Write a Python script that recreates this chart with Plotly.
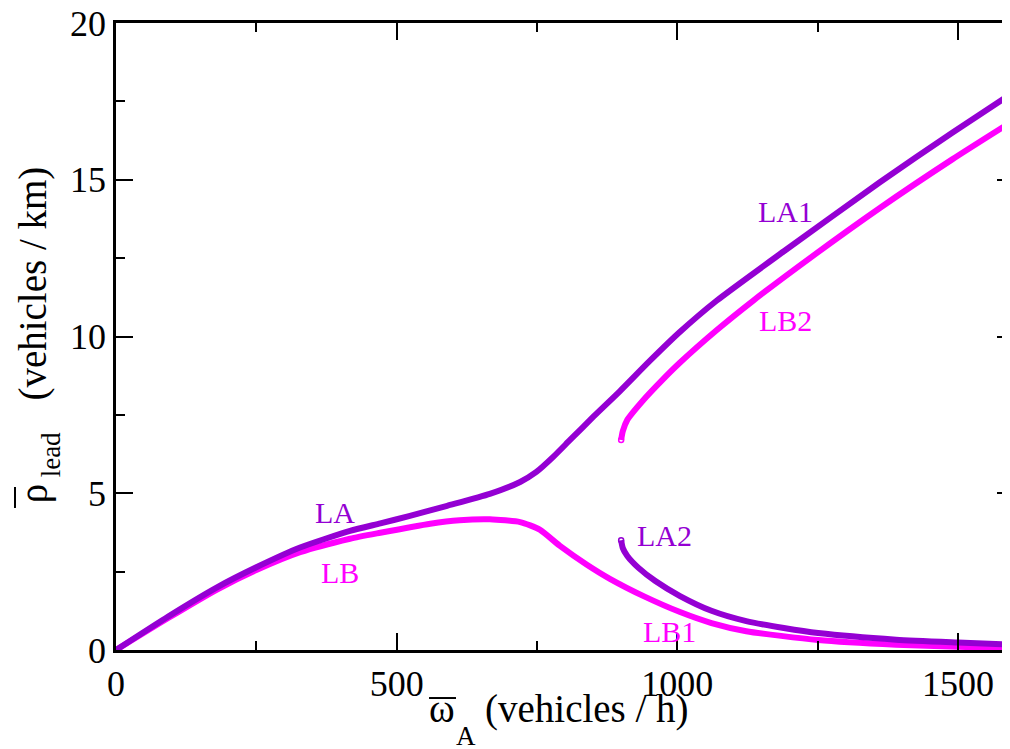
import plotly.graph_objects as go

# LA (purple, main branch continuing as LA1)
la_x = [0, 93, 180, 250, 328, 417, 471, 522, 590, 666, 720, 749, 779, 809, 851, 898, 951, 1005, 1070, 1190, 1361, 1490, 1600]
la_y = [0, 1.07, 2.0, 2.64, 3.27, 3.8, 4.04, 4.27, 4.6, 4.98, 5.36, 5.68, 6.16, 6.7, 7.45, 8.26, 9.22, 10.15, 11.14, 12.72, 14.92, 16.5, 17.8]

# LB (magenta, main branch continuing as LB1)
lb_x = [0, 93, 180, 250, 328, 417, 471, 560, 612, 666, 720, 755, 791, 839, 880, 941, 1005, 1061, 1123, 1251, 1390, 1500, 1600]
lb_y = [0, 1.02, 1.93, 2.55, 3.12, 3.55, 3.74, 4.03, 4.14, 4.17, 4.08, 3.84, 3.32, 2.72, 2.27, 1.71, 1.21, 0.86, 0.6, 0.32, 0.17, 0.1, 0.07]

# LA2 (purple lower branch)
la2_x = [900, 903, 911, 931, 961, 1005, 1061, 1123, 1190, 1251, 1390, 1500, 1600]
la2_y = [3.5, 3.25, 3.0, 2.62, 2.2, 1.72, 1.25, 0.92, 0.7, 0.54, 0.33, 0.24, 0.17]

# LB2 (magenta upper branch)
lb2_x = [900, 903, 911, 939, 971, 1005, 1070, 1135, 1240, 1361, 1490, 1600]
lb2_y = [6.7, 6.98, 7.34, 7.96, 8.57, 9.17, 10.2, 11.14, 12.55, 14.1, 15.65, 16.9]

labels = ["LA", "LB", "LA1", "LB2", "LA2", "LB1"]
label_x = [390, 399, 1192, 1192, 978, 987]
label_y = [4.4, 2.46, 14.0, 10.5, 3.66, 0.58]

x_ticks = [0, 500, 1000, 1500]
y_ticks = [0, 5, 10, 15, 20]

# axis title pieces: (symbol, subscript, unit text)
x_title = ["ω", "A", "(vehicles / h)"]
y_title = ["ρ", "lead", "(vehicles / km)"]

PURPLE = "#9400D3"
MAGENTA = "#FF00FF"
label_colors = [PURPLE, MAGENTA, PURPLE, MAGENTA, PURPLE, MAGENTA]
SERIF = "Times New Roman"

fig = go.Figure()
for xs, ys, c in [(lb_x, lb_y, MAGENTA), (la_x, la_y, PURPLE),
                  (lb2_x, lb2_y, MAGENTA), (la2_x, la2_y, PURPLE)]:
    fig.add_trace(go.Scatter(x=xs, y=ys, mode="lines",
                             line=dict(color=c, width=6, shape="spline", smoothing=0.6),
                             showlegend=False, hoverinfo="skip"))
for xs, ys, c in [(lb2_x, lb2_y, MAGENTA), (la2_x, la2_y, PURPLE)]:
    fig.add_trace(go.Scatter(x=xs[:1], y=ys[:1], mode="markers",
                             marker=dict(symbol="circle-open", size=5, color=c, line=dict(width=1.5)),
                             showlegend=False, hoverinfo="skip"))

for t, x, y, c in zip(labels, label_x, label_y, label_colors):
    fig.add_annotation(x=x, y=y, text=t, showarrow=False,
                       font=dict(family=SERIF, size=30, color=c))

# axis titles built from plain text pieces (no <sub> markup)
title_font = dict(family=SERIF, size=39, color="black")
sub_font = dict(family=SERIF, size=27, color="black")
common = dict(xref="paper", yref="paper", showarrow=False, xanchor="center", yanchor="middle")
fig.add_annotation(x=0.363, y=-0.094, text=x_title[0], font=title_font, **common)
fig.add_annotation(x=0.390, y=-0.137, text=x_title[1], font=sub_font, **common)
fig.add_annotation(x=0.524, y=-0.094, text=x_title[2], font=title_font, **common)
fig.add_annotation(x=-0.092, y=0.249, text=y_title[0], font=title_font, textangle=-90, **common)
fig.add_annotation(x=-0.072, y=0.311, text=y_title[1], font=sub_font, textangle=-90, **common)
fig.add_annotation(x=-0.092, y=0.585, text=y_title[2], font=title_font, textangle=-90, **common)
# overbars on ω and ρ
fig.add_shape(type="line", xref="paper", yref="paper", x0=0.3486, x1=0.3786, y0=-0.0766, y1=-0.0766,
              line=dict(color="black", width=2))
fig.add_shape(type="line", xref="paper", yref="paper", x0=-0.1125, x1=-0.1125, y0=0.2265, y1=0.260,
              line=dict(color="black", width=2))

axis_common = dict(
    showgrid=False, zeroline=False, showline=True, linecolor="black", linewidth=2.5,
    mirror="allticks", ticks="inside", ticklen=17, tickwidth=1.5, tickcolor="black",
    tickfont=dict(family=SERIF, size=36, color="black"), automargin=False,
    ticklabeloverflow="allow",
)

fig.update_xaxes(range=[0, 1600], tickvals=x_ticks,
                 minor=dict(ticks="inside", ticklen=9, tickwidth=1.5, tickcolor="black",
                            tickvals=[250, 750, 1250]),
                 **axis_common)
fig.update_yaxes(range=[0, 20], tickvals=y_ticks,
                 minor=dict(ticks="inside", ticklen=9, tickwidth=1.5, tickcolor="black",
                            tickvals=[2.5, 7.5, 12.5, 17.5]),
                 **axis_common)

fig.update_layout(width=1010, height=749, margin=dict(l=108, r=4, t=15, b=107),
                  plot_bgcolor="white", paper_bgcolor="white")

fig.write_html("out.html")
